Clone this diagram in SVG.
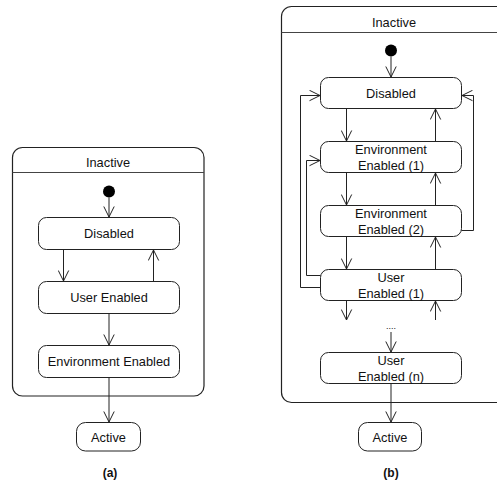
<svg xmlns="http://www.w3.org/2000/svg" width="497" height="485" viewBox="0 0 497 485">
  <style>
    .box { fill: #fff; stroke: #222; stroke-width: 1; }
    .frame { fill: #fff; stroke: #222; stroke-width: 1.2; }
    .sep { stroke: #444; stroke-width: 1; }
    .edge { fill: none; stroke: #222; stroke-width: 1; marker-end: url(#open); }
    .lbl { font-family: "Liberation Sans", Arial, sans-serif; font-size: 12.8px; fill: #111; text-anchor: middle; }
    .cap { font-family: "Liberation Sans", Arial, sans-serif; font-size: 12px; font-weight: bold; fill: #111; text-anchor: middle; }
  </style>
  <defs>
    <marker id="open" viewBox="-11 -6 12 12" refX="0" refY="0" markerWidth="12" markerHeight="12" markerUnits="userSpaceOnUse" orient="auto">
      <path d="M-10.5,-5.2 L0,0 L-10.5,5.2" fill="none" stroke="#222" stroke-width="1"/>
    </marker>
  </defs>

  <!-- (a) composite state -->
  <g id="a-inactive">
    <rect class="frame" x="12.5" y="147.5" width="191.5" height="248.5" rx="10"/>
    <line class="sep" x1="12.5" y1="172.5" x2="204" y2="172.5"/>
    <text class="lbl" x="108" y="167">Inactive</text>
  </g>
  <g id="a-initial"><circle cx="109" cy="191.5" r="6" fill="#000"/></g>
  <g id="a-disabled">
    <rect class="box" x="38.5" y="217.5" width="141" height="32" rx="8"/>
    <text class="lbl" x="109" y="238">Disabled</text>
  </g>
  <g id="a-user">
    <rect class="box" x="38.5" y="281.5" width="141" height="32" rx="8"/>
    <text class="lbl" x="109" y="302">User Enabled</text>
  </g>
  <g id="a-env">
    <rect class="box" x="38.5" y="345.5" width="141" height="32" rx="8"/>
    <text class="lbl" x="109" y="366">Environment Enabled</text>
  </g>
  <g id="a-active">
    <rect class="box" x="76.5" y="422.5" width="64" height="28.5" rx="9"/>
    <text class="lbl" x="108.5" y="441.5">Active</text>
  </g>
  <text class="cap" x="110" y="477">(a)</text>

  <!-- (b) composite state -->
  <g id="b-inactive">
    <rect class="frame" x="281.5" y="6.5" width="230" height="396" rx="10"/>
    <line class="sep" x1="281.5" y1="32.5" x2="497" y2="32.5"/>
    <text class="lbl" x="394" y="27">Inactive</text>
  </g>
  <g id="b-initial"><circle cx="391" cy="50.5" r="6" fill="#000"/></g>
  <g id="b-disabled">
    <rect class="box" x="320.5" y="77.5" width="141" height="31" rx="8"/>
    <text class="lbl" x="391" y="97.5">Disabled</text>
  </g>
  <g id="b-env1">
    <rect class="box" x="320.5" y="141.5" width="141" height="31" rx="8"/>
    <text class="lbl" x="391" y="154">Environment</text>
    <text class="lbl" x="391" y="170">Enabled (1)</text>
  </g>
  <g id="b-env2">
    <rect class="box" x="320.5" y="205.5" width="141" height="31" rx="8"/>
    <text class="lbl" x="391" y="218">Environment</text>
    <text class="lbl" x="391" y="234">Enabled (2)</text>
  </g>
  <g id="b-user1">
    <rect class="box" x="320.5" y="269.5" width="141" height="31" rx="8"/>
    <text class="lbl" x="391" y="282">User</text>
    <text class="lbl" x="391" y="298">Enabled (1)</text>
  </g>
  <g id="b-usern">
    <rect class="box" x="320.5" y="352.5" width="141" height="31" rx="8"/>
    <text class="lbl" x="391" y="365">User</text>
    <text class="lbl" x="391" y="381">Enabled (n)</text>
  </g>
  <g id="b-active">
    <rect class="box" x="358.5" y="422.5" width="63" height="28.5" rx="9"/>
    <text class="lbl" x="390" y="441.5">Active</text>
  </g>
  <text class="lbl" x="391" y="329" style="font-size:9px">....</text>
  <text class="cap" x="391" y="477">(b)</text>

  <!-- transitions -->
  <g id="connectors">
    <line class="edge" x1="109" y1="197.5" x2="109" y2="217"/>
    <line class="edge" x1="63.5" y1="249.5" x2="63.5" y2="281"/>
    <line class="edge" x1="153.5" y1="281.5" x2="153.5" y2="250"/>
    <line class="edge" x1="109" y1="313.5" x2="109" y2="345"/>
    <line class="edge" x1="109" y1="377.5" x2="109" y2="422"/>

    <line class="edge" x1="391" y1="56.5" x2="391" y2="77"/>
    <line class="edge" x1="346.5" y1="108.5" x2="346.5" y2="141"/>
    <line class="edge" x1="346.5" y1="172.5" x2="346.5" y2="205"/>
    <line class="edge" x1="346.5" y1="236.5" x2="346.5" y2="269"/>
    <line class="edge" x1="346.5" y1="300.5" x2="346.5" y2="320"/>
    <line class="edge" x1="435.5" y1="141.5" x2="435.5" y2="109"/>
    <line class="edge" x1="435.5" y1="205.5" x2="435.5" y2="173"/>
    <line class="edge" x1="435.5" y1="269.5" x2="435.5" y2="237"/>
    <line class="edge" x1="435.5" y1="320" x2="435.5" y2="301"/>
    <line class="edge" x1="391" y1="332" x2="391" y2="352"/>
    <line class="edge" x1="391" y1="383.5" x2="391" y2="422"/>

    <polyline class="edge" points="320.5,287.5 300.5,287.5 300.5,95.5 320,95.5"/>
    <polyline class="edge" points="320.5,275.5 306.5,275.5 306.5,160.5 320,160.5"/>
    <polyline class="edge" points="461.5,230.5 473.5,230.5 473.5,95.5 462,95.5"/>
  </g>
</svg>
